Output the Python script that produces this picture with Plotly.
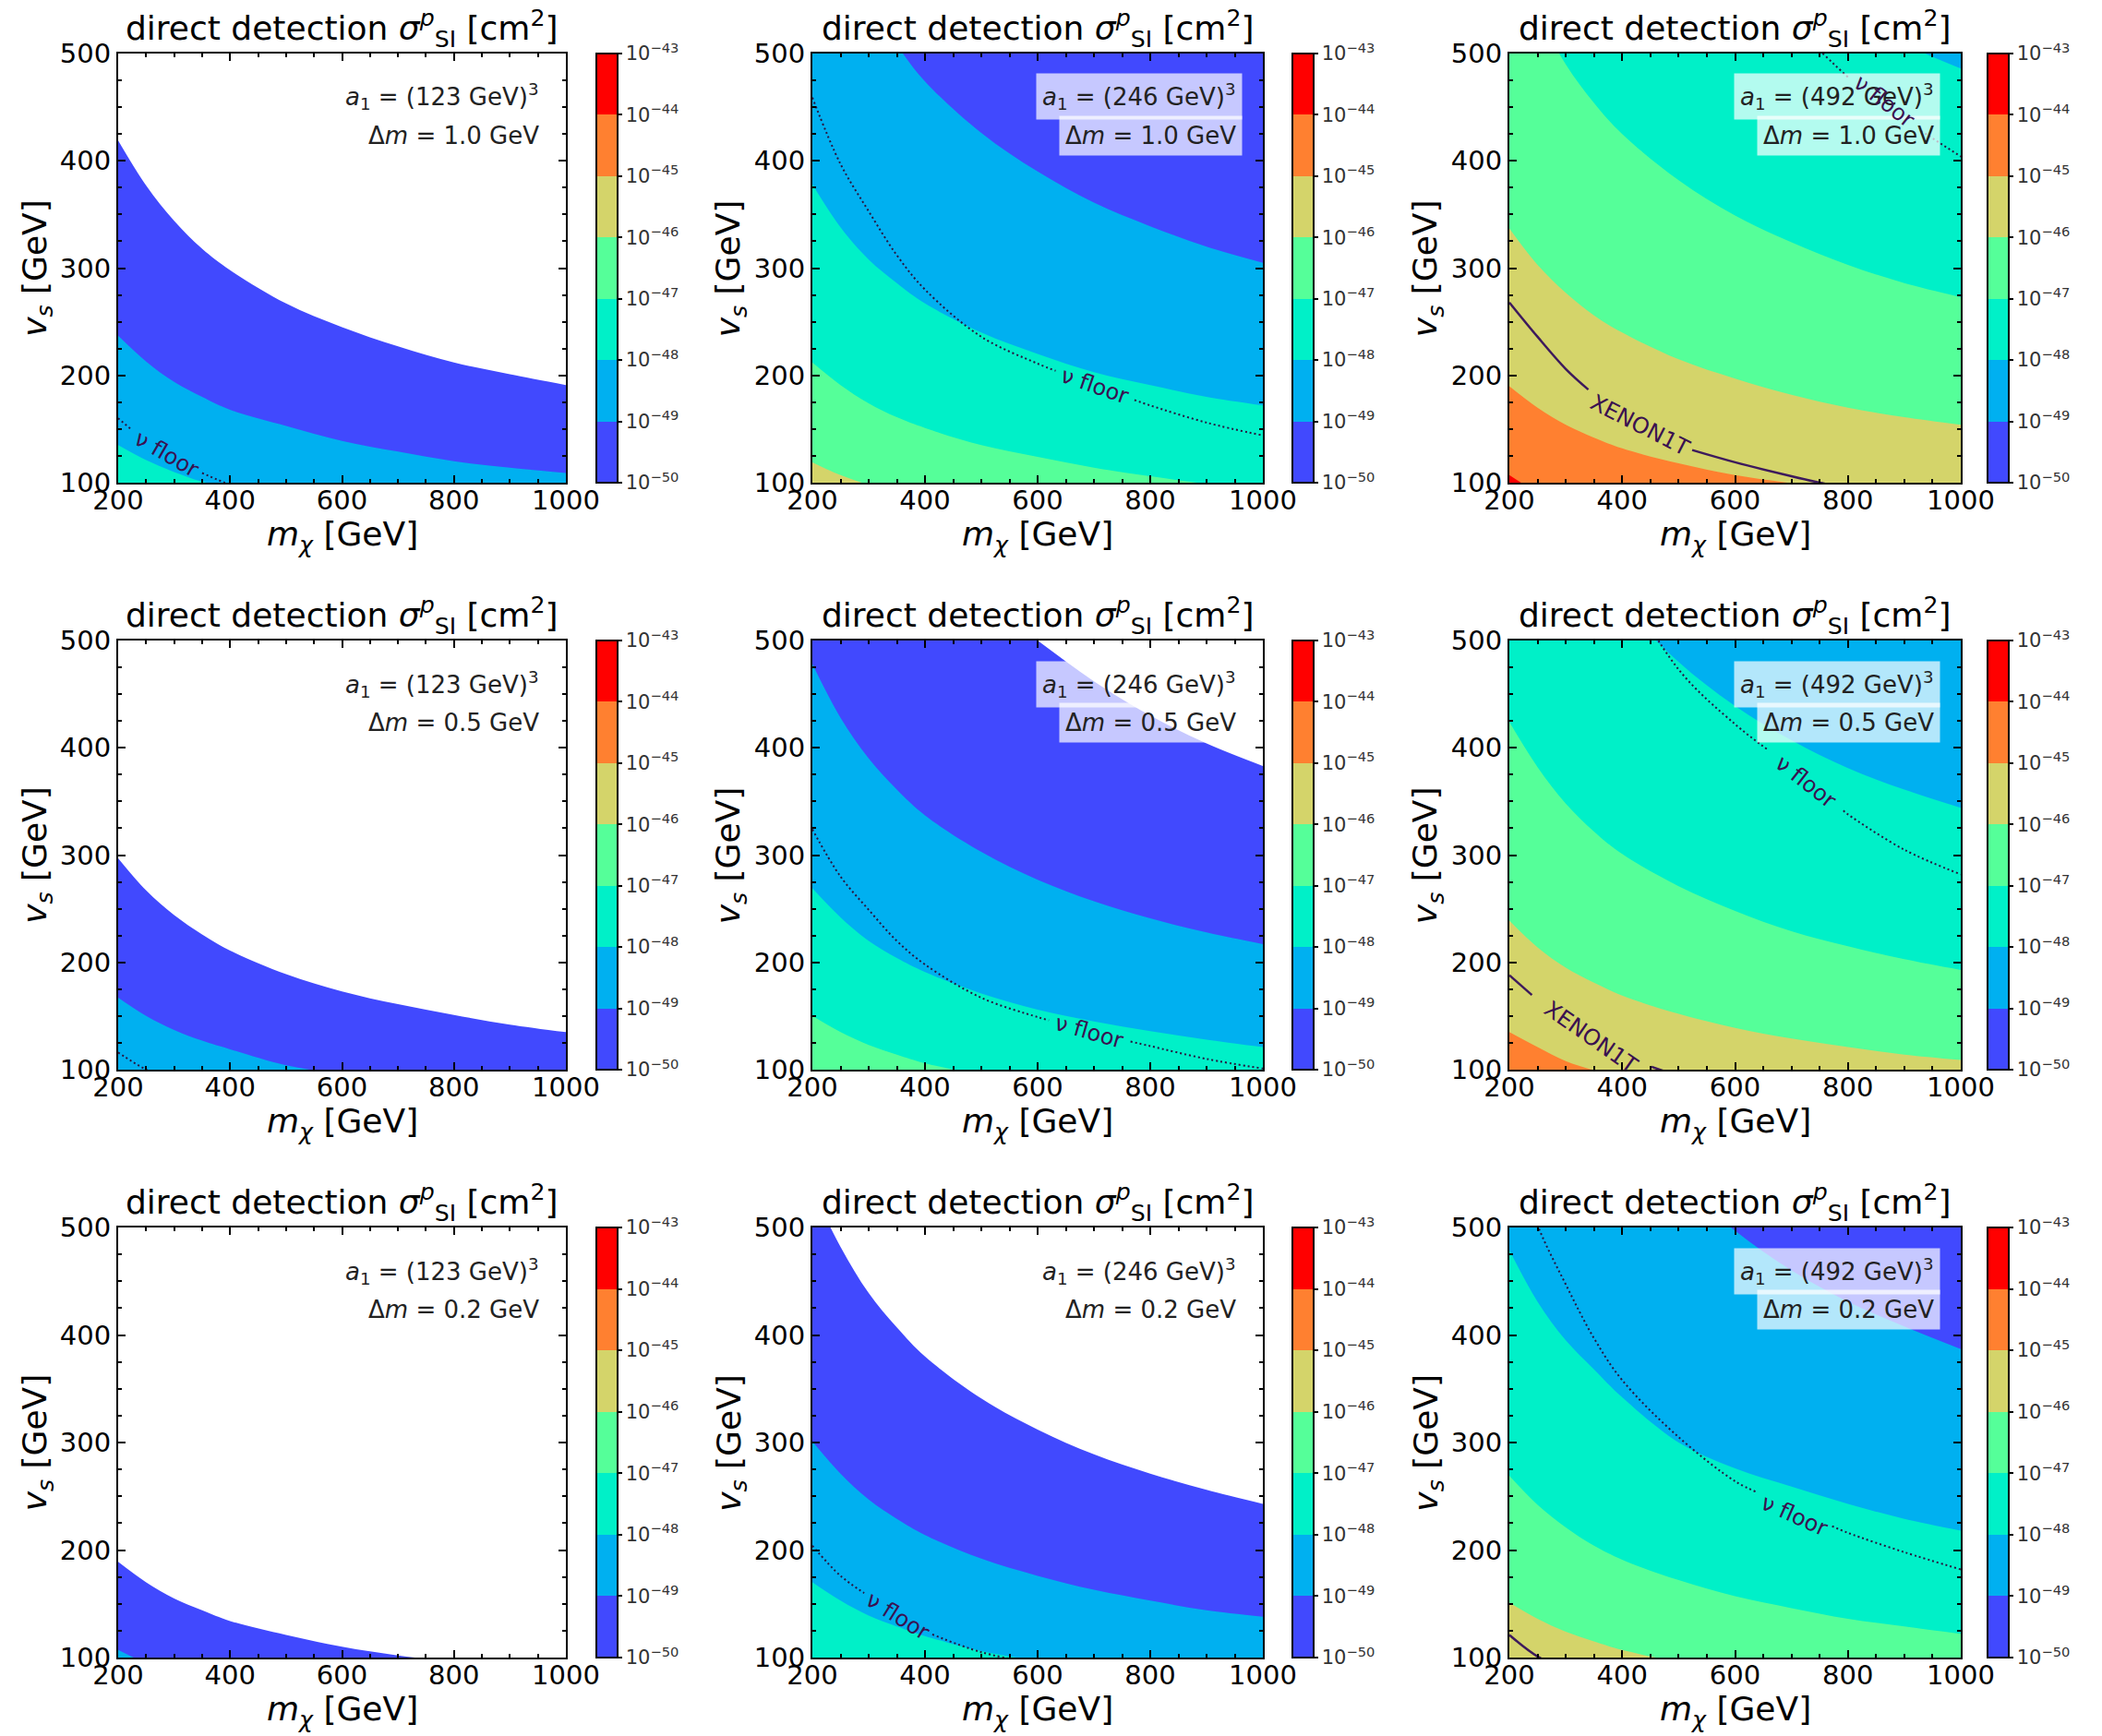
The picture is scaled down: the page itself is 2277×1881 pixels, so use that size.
import numpy as np
import plotly.graph_objects as go

W, H = 2277, 1881

# ---------------- data ----------------
# common m_chi grid [GeV] for the contour boundaries
MX = [200, 250, 300, 350, 400, 500, 600, 700, 800, 900, 1000]

LEVELS = [-50, -49, -48, -47, -46, -45, -44, -43]
BAND_COLORS = ['#4149FE', '#00B0F0', '#00F0C8', '#55FF99', '#D4D46A', '#FF8030', '#FF0000']
CB_TICKTEXT = ['10<sup>−50</sup>', '10<sup>−49</sup>', '10<sup>−48</sup>', '10<sup>−47</sup>',
               '10<sup>−46</sup>', '10<sup>−45</sup>', '10<sup>−44</sup>', '10<sup>−43</sup>']

A1_VALUES = ['123', '246', '492']   # columns
DM_VALUES = ['1.0', '0.5', '0.2']   # rows

# v_s boundary [GeV] of log10(sigma) = level, along MX (sigma larger below the curve)
C11 = {-50: [419, 377, 344, 318, 298, 267, 245, 227, 212, 201, 191],
       -49: [237, 213, 194, 180, 168, 153, 139, 129, 120, 114, 109],
       -48: [135, 121, 110, 101, 95, 85, 78, 72, 68, 64, 61]}
C12 = {-49: [668, 601, 548, 508, 474, 426, 390, 361, 339, 320, 305],
       -48: [378, 338, 308, 286, 267, 240, 220, 203, 191, 180, 172],
       -47: [212, 191, 174, 161, 151, 135, 124, 114, 106, 99, 94],
       -46: [119, 107, 98, 91, 85, 76, 70, 65, 60, 57, 54]}
C13 = {-48: [1063, 957, 872, 808, 755, 678, 621, 575, 539, 509, 486],
       -47: [598, 538, 490, 454, 425, 382, 349, 324, 303, 286, 273],
       -46: [337, 303, 277, 256, 240, 215, 197, 182, 170, 161, 154],
       -45: [190, 170, 154, 142, 132, 118, 107, 99.5, 93, 88, 84],
       -44: [107, 92, 86, 80, 75, 67, 61, 56, 53, 50, 48]}
C21 = {-50: [297, 267, 244, 226, 211, 189, 173, 161, 151, 142, 135],
       -49: [167, 150, 137, 127, 119, 104, 96, 90, 84, 80, 76]}
C22 = {-50: [840, 756, 689, 638, 596, 540, 500, 462, 430, 404, 383],
       -49: [478, 428, 390, 361, 337, 303, 277, 257, 241, 228, 217],
       -48: [269, 242, 220, 204, 191, 171, 156, 145, 136, 128, 121],
       -47: [150, 135, 123, 114, 106, 95, 87, 81, 76, 72, 68]}
C23 = {-48: [752, 677, 617, 572, 534, 480, 439, 407, 381, 361, 344],
       -47: [424, 382, 348, 322, 301, 271, 248, 229, 215, 203, 193],
       -46: [239, 214, 195, 181, 169, 152, 139, 129, 121, 114, 109],
       -45: [135, 121, 108, 99.5, 93, 83, 76, 71, 66, 63, 60]}
C31 = {-50: [189, 170, 155, 144, 134, 121, 110, 102, 96, 91, 86],
       -49: [107, 95, 87, 80, 75, 68, 62, 57, 54, 51, 49]}
C32 = {-50: [535, 482, 439, 407, 380, 341, 312, 289, 271, 256, 243],
       -49: [301, 271, 247, 229, 214, 192, 176, 163, 153, 144, 138],
       -48: [170, 153, 139, 129, 120, 106, 97, 90, 85, 80, 76]}
C33 = {-49: [851, 766, 698, 647, 604, 543, 497, 460, 431, 408, 387],
       -48: [479, 431, 395, 368, 342, 300, 276, 259, 243, 229, 218],
       -47: [269, 242, 221, 204, 191, 172, 157, 146, 136, 129, 122],
       -46: [151, 136, 124, 115, 107, 96, 88, 82, 76, 72, 69]}

# band that covers the region above the highest-v boundary (None = white, sigma < 1e-50)
TOP_BAND = {(0, 0): None, (0, 1): -50, (0, 2): -49,
            (1, 0): None, (1, 1): None, (1, 2): -49,
            (2, 0): None, (2, 1): None, (2, 2): -50}

# neutrino floor curves (m_chi, v_s)
NU11_M = [200, 250, 300, 350, 400, 450]
NU11_V = [160, 138, 123, 109, 98, 89]
NU12_V = [459, 397, 353, 312, 280, 236, 211, 190, 172, 156, 144]
NU13_V = [1299, 1124, 1000, 883, 792, 669, 598, 530, 478, 438, 404]
NU21_M = [200, 250, 300]
NU21_V = [116, 100, 89]
NU22_V = [324, 280, 249, 220, 198, 167, 149, 134, 122, 110, 101]
NU23_V = [918, 794, 707, 624, 560, 473, 422, 381, 338, 305, 282]
NU32_M = [200, 250, 300, 350, 400, 500, 600]
NU32_V = [204, 176, 157, 139, 124, 105, 94]
NU33_V = [580, 502, 447, 397, 358, 305, 264, 238, 216, 198, 182]

# XENON1T limit curves (m_chi, v_s)
XE13_M = [200, 250, 300, 350, 400, 450, 500, 600, 700, 750, 800]
XE13_V = [268, 236, 206, 182, 163, 147, 134, 119, 106, 100, 95]
XE23_M = [200, 250, 300, 350, 400, 450, 500]
XE23_V = [188, 165, 145, 128, 115, 103, 94]
XE33_M = [200, 250, 300]
XE33_V = [121, 101, 89]

CONTOURS = {(0, 0): C11, (0, 1): C12, (0, 2): C13,
            (1, 0): C21, (1, 1): C22, (1, 2): C23,
            (2, 0): C31, (2, 1): C32, (2, 2): C33}
NU_CURVES = {(0, 0): (NU11_M, NU11_V), (0, 1): (MX, NU12_V), (0, 2): (MX, NU13_V),
             (1, 0): (NU21_M, NU21_V), (1, 1): (MX, NU22_V), (1, 2): (MX, NU23_V),
             (2, 1): (NU32_M, NU32_V), (2, 2): (MX, NU33_V)}
XE_CURVES = {(0, 2): (XE13_M, XE13_V), (1, 2): (XE23_M, XE23_V), (2, 2): (XE33_M, XE33_V)}

# ---------------- layout / style (positions in pixels) ----------------
COL_PX = [(128, 613), (880, 1368), (1635, 2124)]
ROW_PX = [(58, 523), (694, 1159), (1330, 1796)]
CB_LEFT_PX = [646, 1400, 2153]
CB_W = 23

# label placements: (m, v, angle, gap_lo, gap_hi)
NU_LABEL = {(0, 0): (287, 127, 30, 222, 350), (0, 1): (702, 190, 19, 632, 772),
            (0, 2): (865, 455, 38, 800, 930), (1, 1): (692, 135, 16, 620, 765),
            (1, 2): (725, 368, 38, 660, 792), (2, 1): (352, 139, 32, 292, 413),
            (2, 2): (705, 232, 24, 640, 772)}
XE_LABEL = {(0, 2): (432, 153, 27, 340, 524), (1, 2): (345, 130, 35, 240, 452)}

FONT = 'DejaVu Sans'
LINE_DARK = '#2a1440'
LABEL_COLOR = '#3a1150'

fig = go.Figure()
layout = dict(width=W, height=H, margin=dict(l=0, r=0, t=0, b=0, autoexpand=False),
              paper_bgcolor='white', plot_bgcolor='white', showlegend=False,
              font=dict(family=FONT, color='black'))
annotations = []
top_annotations = []
shapes = []


def split_gap(ms, vs, gap):
    ms = np.asarray(ms, float)
    vs = np.asarray(vs, float)
    if gap is None:
        return [(ms, vs)]
    lo, hi = gap
    vlo = float(np.interp(lo, ms, vs))
    vhi = float(np.interp(hi, ms, vs))
    a = ms < lo
    b = ms > hi
    seg1 = (list(ms[a]) + [lo], list(vs[a]) + [vlo])
    seg2 = ([hi] + list(ms[b]), [vhi] + list(vs[b]))
    return [seg1, seg2]


cs = []
n = len(BAND_COLORS)
for i, col in enumerate(BAND_COLORS):
    cs.append([i / n, col])
    cs.append([(i + 1) / n, col])

for r in range(3):
    for c in range(3):
        k = r * 3 + c + 1
        xa = 'x' if k == 1 else f'x{k}'
        ya = 'y' if k == 1 else f'y{k}'
        xname = 'xaxis' if k == 1 else f'xaxis{k}'
        yname = 'yaxis' if k == 1 else f'yaxis{k}'
        x0, x1 = COL_PX[c]
        yt, yb = ROW_PX[r]
        common = dict(showgrid=False, zeroline=False, showline=True, linecolor='black',
                      linewidth=2, mirror='allticks', ticks='inside', ticklen=8,
                      tickwidth=2, tickcolor='black',
                      tickfont=dict(size=29, family=FONT, color='black'), fixedrange=True)
        layout[xname] = dict(domain=[x0 / W, x1 / W], range=[200, 1000], anchor=ya,
                             tickmode='linear', tick0=200, dtick=200, ticklabelstandoff=-8,
                             minor=dict(ticks='inside', ticklen=4, tickwidth=1.5,
                                        tickcolor='black', dtick=50, tick0=200, showgrid=False),
                             **common)
        layout[yname] = dict(domain=[1 - yb / H, 1 - yt / H], range=[100, 500], anchor=xa,
                             tickmode='linear', tick0=100, dtick=100,
                             minor=dict(ticks='inside', ticklen=4, tickwidth=1.5,
                                        tickcolor='black', dtick=25, tick0=100, showgrid=False),
                             **common)

        # top band background
        tb = TOP_BAND[(r, c)]
        if tb is not None:
            shapes.append(dict(type='rect', xref=xa, yref=ya, x0=200, x1=1000, y0=100, y1=500,
                               fillcolor=BAND_COLORS[tb + 50], line=dict(width=0), layer='below'))

        # filled bands
        cont = CONTOURS[(r, c)]
        for lev in sorted(cont.keys()):
            fig.add_trace(go.Scatter(x=MX, y=cont[lev], xaxis=xa, yaxis=ya, mode='lines',
                                     line=dict(width=0, shape='spline', smoothing=1.0),
                                     fill='tozeroy', fillcolor=BAND_COLORS[lev + 50],
                                     hoverinfo='skip'))

        # neutrino floor
        if (r, c) in NU_CURVES:
            ms, vs = NU_CURVES[(r, c)]
            lab = NU_LABEL.get((r, c))
            gap = (lab[3], lab[4]) if lab else None
            for sm, sv in split_gap(ms, vs, gap):
                fig.add_trace(go.Scatter(x=sm, y=sv, xaxis=xa, yaxis=ya, mode='lines',
                                         line=dict(color=LINE_DARK, width=2, dash='2px,3px',
                                                   shape='spline', smoothing=1.0),
                                         hoverinfo='skip'))
            if lab:
                top_annotations.append(dict(x=lab[0], y=lab[1], xref=xa, yref=ya, text='ν floor',
                                            showarrow=False, textangle=lab[2],
                                            font=dict(size=24, color=LABEL_COLOR, family=FONT),
                                            xanchor='center', yanchor='middle'))
        # XENON1T
        if (r, c) in XE_CURVES:
            ms, vs = XE_CURVES[(r, c)]
            lab = XE_LABEL.get((r, c))
            gap = (lab[3], lab[4]) if lab else None
            for sm, sv in split_gap(ms, vs, gap):
                fig.add_trace(go.Scatter(x=sm, y=sv, xaxis=xa, yaxis=ya, mode='lines',
                                         line=dict(color='#3d1a5c', width=2.5,
                                                   shape='spline', smoothing=1.0),
                                         hoverinfo='skip'))
            if lab:
                top_annotations.append(dict(x=lab[0], y=lab[1], xref=xa, yref=ya, text='XENON1T',
                                            showarrow=False, textangle=lab[2],
                                            font=dict(size=24, color=LABEL_COLOR, family=FONT),
                                            xanchor='center', yanchor='middle'))

        # colorbar (via a hidden marker trace)
        fig.add_trace(go.Scatter(x=[600], y=[300], xaxis=xa, yaxis=ya, mode='markers',
                                 marker=dict(size=1, opacity=0, color=[-46.5], colorscale=cs,
                                             cmin=-50, cmax=-43, showscale=True,
                                             colorbar=dict(
                                                 x=CB_LEFT_PX[c] / W, xanchor='left', xpad=0,
                                                 y=1 - (yt + yb) / 2 / H, yanchor='middle', ypad=0,
                                                 len=(yb - yt) / H, lenmode='fraction',
                                                 thickness=CB_W, thicknessmode='pixels',
                                                 outlinewidth=2, outlinecolor='black',
                                                 tickmode='array', tickvals=LEVELS,
                                                 ticktext=CB_TICKTEXT, ticks='outside',
                                                 ticklen=4, tickwidth=2, tickcolor='black',
                                                 tickfont=dict(size=21, family=FONT, color='#333'))),
                                 hoverinfo='skip'))

        # title and axis labels
        annotations.append(dict(x=0.5, y=1 + 27 / 465, xref=f'{xa} domain', yref=f'{ya} domain',
                                text='direct detection <i>σ</i><sup><i>p</i></sup><sub>SI</sub> [cm<sup>2</sup>]',
                                showarrow=False, xanchor='center', yanchor='middle',
                                font=dict(size=36, family=FONT, color='black')))
        annotations.append(dict(x=0.5, y=-58 / 465, xref=f'{xa} domain', yref=f'{ya} domain',
                                text='<i>m</i><sub><i>χ</i></sub> [GeV]', showarrow=False,
                                xanchor='center', yanchor='middle',
                                font=dict(size=36, family=FONT, color='black')))
        annotations.append(dict(x=-88 / 487, y=0.5, xref=f'{xa} domain', yref=f'{ya} domain',
                                text='<i>v</i><sub><i>s</i></sub> [GeV]', showarrow=False,
                                textangle=-90, xanchor='center', yanchor='middle',
                                font=dict(size=36, family=FONT, color='black')))

        # parameter boxes
        annotations.append(dict(x=1 - 22 / 487, y=1 - 47 / 465, xref=f'{xa} domain',
                                yref=f'{ya} domain',
                                text=f'<i>a</i><sub>1</sub> = ({A1_VALUES[c]} GeV)<sup>3</sup>',
                                showarrow=False, xanchor='right', yanchor='middle',
                                bgcolor='rgba(255,255,255,0.7)', borderpad=6,
                                font=dict(size=26, family=FONT, color='#222')))
        annotations.append(dict(x=1 - 22 / 487, y=1 - 89 / 465, xref=f'{xa} domain',
                                yref=f'{ya} domain',
                                text=f'Δ<i>m</i> = {DM_VALUES[r]} GeV',
                                showarrow=False, xanchor='right', yanchor='middle',
                                bgcolor='rgba(255,255,255,0.7)', borderpad=6,
                                font=dict(size=26, family=FONT, color='#222')))

layout['annotations'] = annotations + top_annotations
layout['shapes'] = shapes
fig.update_layout(**layout)
fig.write_html('out.html')
